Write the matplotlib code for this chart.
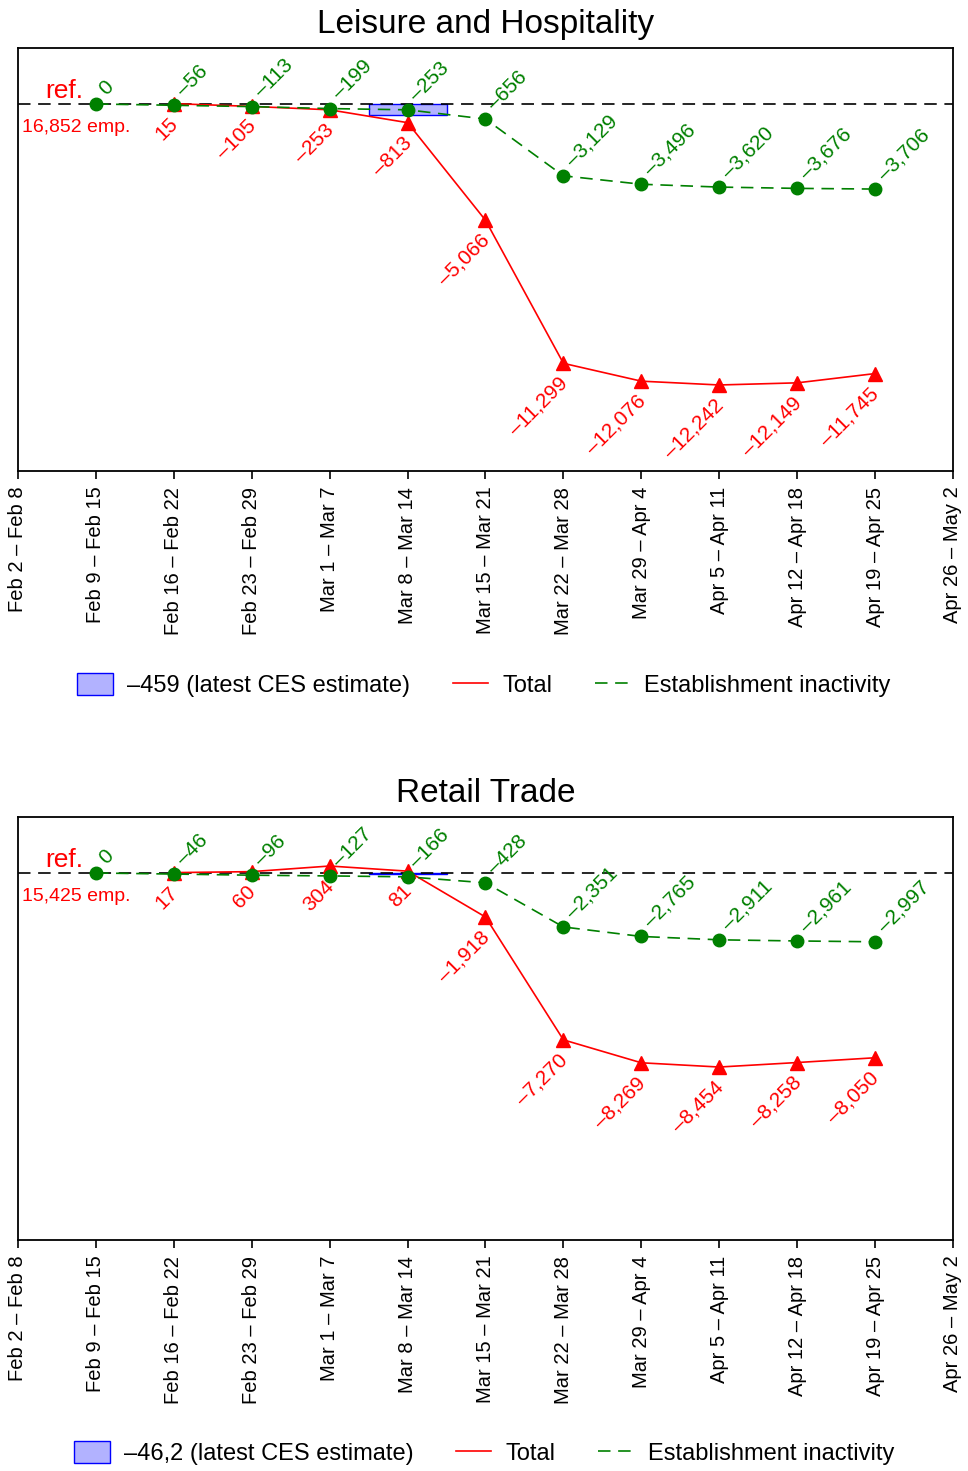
import matplotlib
matplotlib.use("Agg")
import matplotlib.pyplot as plt
import matplotlib.patches as mpatches
from matplotlib.lines import Line2D

plt.rcParams['font.family'] = ['Liberation Sans', 'DejaVu Sans']
plt.rcParams['lines.scale_dashes'] = False

weeks = ["Feb 2 – Feb 8", "Feb 9 – Feb 15", "Feb 16 – Feb 22", "Feb 23 – Feb 29",
         "Mar 1 – Mar 7", "Mar 8 – Mar 14", "Mar 15 – Mar 21", "Mar 22 – Mar 28",
         "Mar 29 – Apr 4", "Apr 5 – Apr 11", "Apr 12 – Apr 18", "Apr 19 – Apr 25",
         "Apr 26 – May 2"]

# Leisure and Hospitality
lh_title = "Leisure and Hospitality"
lh_ref_emp = "16,852 emp."
lh_total = [15, -105, -253, -813, -5066, -11299, -12076, -12242, -12149, -11745]   # weeks 2..11
lh_inact = [0, -56, -113, -199, -253, -656, -3129, -3496, -3620, -3676, -3706]     # weeks 1..11
lh_ces = -459
lh_ces_label = "–459 (latest CES estimate)"

# Retail Trade
rt_title = "Retail Trade"
rt_ref_emp = "15,425 emp."
rt_total = [17, 60, 304, 81, -1918, -7270, -8269, -8454, -8258, -8050]
rt_inact = [0, -46, -96, -127, -166, -428, -2351, -2765, -2911, -2961, -2997]
rt_ces = -46.2
rt_ces_label = "–46,2 (latest CES estimate)"

total_x = list(range(2, 12))
inact_x = list(range(1, 12))
ces_x = 5

RED = "#ff0000"
GREEN = "#008000"
DASH = (0, (9, 5.5))


def fmt(v):
    s = f"{abs(v):,}"
    return ("–" + s) if v < 0 else s


def panel(ax, title, ref_emp, total, inact, ces, ces_label, legend_y):
    ax.set_xlim(0, 12)
    ax.set_ylim(-15990, 2440)
    ax.axhline(0, color="black", lw=1.2, ls=DASH, zorder=2)
    ax.bar(ces_x, ces, width=1.0, bottom=0, color=(0, 0, 1, 0.3),
           edgecolor="blue", linewidth=1.0, zorder=1)
    ax.plot(total_x, total, color=RED, lw=1.2, marker="^", ms=10, zorder=3)
    ax.plot(inact_x, inact, color=GREEN, lw=1.2, ls=DASH, marker="o", ms=9, zorder=4)

    for x, v in zip(total_x, total):
        ax.annotate(fmt(v), (x, v), xytext=(1, -17), textcoords="offset pixels",
                    rotation=45, rotation_mode="anchor", ha="right", va="center",
                    color=RED, fontsize=15)
    for x, v in zip(inact_x, inact):
        ax.annotate(fmt(v), (x, v), xytext=(6, 12), textcoords="offset pixels",
                    rotation=45, rotation_mode="anchor", ha="left", va="center",
                    color=GREEN, fontsize=15)

    ax.annotate("ref.", (1, 0), xytext=(-13, 6), textcoords="offset pixels",
                ha="right", va="baseline", color=RED, fontsize=19)
    ax.annotate(ref_emp, (1, 0), xytext=(-74, -28), textcoords="offset pixels",
                ha="left", va="baseline", color=RED, fontsize=14)

    ax.set_xticks(range(13))
    ax.set_xticklabels(weeks, rotation=90, fontsize=14.5)
    ax.tick_params(axis="x", length=5.8, width=1.2, pad=5.5, direction="out")
    ax.set_yticks([])
    for sp in ax.spines.values():
        sp.set_linewidth(1.3)
    ax.set_title(title, fontsize=24, pad=11)

    handles = [mpatches.Patch(facecolor=(0, 0, 1, 0.3), edgecolor="blue", linewidth=1.0),
               Line2D([], [], color=RED, lw=1.2),
               Line2D([], [], color=GREEN, lw=1.2, ls=DASH)]
    labels = [ces_label, "Total", "Establishment inactivity"]
    ax.figure.legend(handles, labels, loc="center", bbox_to_anchor=(0.5, legend_y),
                     ncol=3, frameon=False, fontsize=17, handlelength=1.5,
                     handleheight=1.06, handletextpad=0.6, columnspacing=1.8)


fig = plt.figure(figsize=(9.68, 14.71), dpi=100)
ax1 = fig.add_axes([18 / 968, 1 - 471 / 1471, 935 / 968, 423 / 1471])
ax2 = fig.add_axes([18 / 968, 1 - 1240 / 1471, 935 / 968, 423 / 1471])

panel(ax1, lh_title, lh_ref_emp, lh_total, lh_inact, lh_ces, lh_ces_label, 1 - 685 / 1471)
panel(ax2, rt_title, rt_ref_emp, rt_total, rt_inact, rt_ces, rt_ces_label, 1 - 1453 / 1471)

fig.savefig("out.png", dpi=100)
